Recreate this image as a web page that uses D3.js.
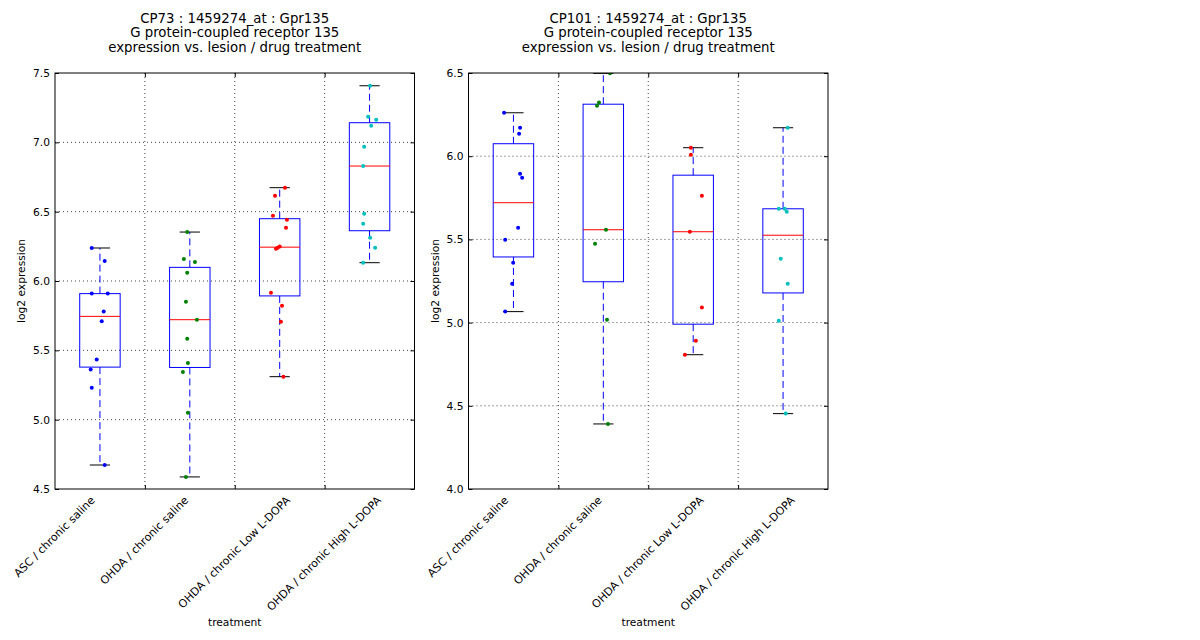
<!DOCTYPE html>
<html>
<head>
<meta charset="utf-8">
<script src="https://cdn.jsdelivr.net/npm/d3@7"></script>
<style>
  body { margin: 0; background: #fff; }
  text { font-family: 'DejaVu Sans', sans-serif; fill: #000; }
</style>
</head>
<body>
<svg id="chart" width="1200" height="640"></svg>
<script>
// treatment groups, in plotting order
var categories = ['ASC / chronic saline', 'OHDA / chronic saline',
  'OHDA / chronic Low L-DOPA', 'OHDA / chronic High L-DOPA']

// CP73 log2 expression per group
var cp73Values = [
  [6.238, 6.144, 5.909, 5.909, 5.780, 5.710, 5.433, 5.361, 5.231, 4.673],
  [6.353, 6.159, 6.137, 6.060, 5.851, 5.721, 5.584, 5.409, 5.344, 5.050, 4.587],
  [6.673, 6.615, 6.471, 6.442, 6.384, 6.248, 6.240, 6.232, 5.916, 5.822, 5.707, 5.310],
  [7.408, 7.185, 7.163, 7.120, 6.969, 6.829, 6.485, 6.413, 6.312, 6.240, 6.132]
]
// horizontal jitter of each point, in category widths
var cp73Jitter = [
  [-0.091, 0.053, -0.091, 0.087, 0.042, 0.020, -0.036, -0.103, -0.091, 0.053],
  [-0.029, -0.066, 0.057, -0.029, -0.043, 0.079, -0.029, -0.021, -0.077, -0.021, -0.043],
  [0.059, -0.052, -0.075, 0.081, 0.070, 0.000, -0.022, -0.041, -0.097, 0.026, 0.014, 0.042],
  [0.006, -0.016, 0.074, 0.018, -0.060, -0.071, -0.060, -0.071, 0.006, 0.062, -0.071]
]

// CP101 log2 expression per group
var cp101Values = [
  [6.261, 6.171, 6.135, 5.895, 5.871, 5.570, 5.498, 5.360, 5.234, 5.066],
  [6.498, 6.322, 6.303, 5.558, 5.474, 5.017, 4.391],
  [6.051, 6.009, 5.763, 5.546, 5.090, 4.891, 4.807],
  [6.171, 5.684, 5.684, 5.666, 5.384, 5.234, 5.011, 4.453]
]
var cp101Jitter = [
  [-0.104, 0.074, 0.063, 0.074, 0.097, 0.052, -0.092, -0.003, -0.014, -0.092],
  [0.074, -0.048, -0.070, 0.030, -0.092, 0.041, 0.052],
  [-0.026, -0.026, 0.097, -0.037, 0.097, 0.030, -0.092],
  [0.052, -0.048, 0.019, 0.041, -0.026, 0.052, -0.048, 0.030]
]

var cp73Ticks = [4.5, 5.0, 5.5, 6.0, 6.5, 7.0, 7.5]
var cp101Ticks = [4.0, 4.5, 5.0, 5.5, 6.0, 6.5]

var cp73Title = ['CP73 : 1459274_at : Gpr135', 'G protein-coupled receptor 135',
  'expression vs. lesion / drug treatment']
var cp101Title = ['CP101 : 1459274_at : Gpr135', 'G protein-coupled receptor 135',
  'expression vs. lesion / drug treatment']

var dotColors = ['#0000ff', '#008000', '#ff0000', '#00bfbf']

var svg = d3.select('#chart')
svg.append('rect').attr('width', 1200).attr('height', 640).attr('fill', '#fff')

// panel geometry
var plotTop = 73
var plotHeight = 416
var plotWidth = 359.5
var labelSize = 11

function boxStats (vals) {
  var s = vals.slice().sort(d3.ascending)
  var q1 = d3.quantileSorted(s, 0.25)
  var med = d3.quantileSorted(s, 0.5)
  var q3 = d3.quantileSorted(s, 0.75)
  var iqr = q3 - q1
  var lo = d3.min(s.filter((v) => v >= q1 - 1.5 * iqr))
  var hi = d3.max(s.filter((v) => v <= q3 + 1.5 * iqr))
  return {q1: q1, med: med, q3: q3, lo: lo, hi: hi}
}

function drawPanel (left, id, values, jitter, ticks, title) {
  var width = plotWidth
  var height = plotHeight
  var g = svg.append('g').attr('transform', 'translate(' + left + ',' + plotTop + ')')

  var x = d3.scalePoint().domain(categories).range([0, width]).padding(0.5)
  var step = x.step()
  var y = d3.scaleLinear().domain([ticks[0], ticks[ticks.length - 1]]).range([height, 0])
  // x ticks (and their labels) sit on the group edges, not the centres
  var edges = categories.map((c) => x(c) - step / 2)

  svg.append('clipPath').attr('id', id)
    .append('rect').attr('width', width).attr('height', height)

  // dotted grid
  g.append('g').selectAll('line').data(ticks.slice(1, -1)).enter().append('line')
    .attr('x1', 0).attr('x2', width)
    .attr('y1', (d) => y(d)).attr('y2', (d) => y(d))
    .attr('stroke', '#444').attr('stroke-dasharray', '1,3')
  g.append('g').selectAll('line').data(edges.slice(1)).enter().append('line')
    .attr('x1', (d) => d).attr('x2', (d) => d)
    .attr('y1', 0).attr('y2', height)
    .attr('stroke', '#444').attr('stroke-dasharray', '1,3')

  // boxes
  var plot = g.append('g').attr('clip-path', 'url(#' + id + ')')
  var bw = 0.45 * step
  values.forEach(function (vals, i) {
    var st = boxStats(vals)
    var cx = x(categories[i])
    var b = plot.append('g')
    b.append('line').attr('x1', cx).attr('x2', cx)
      .attr('y1', y(st.q3)).attr('y2', y(st.hi))
      .attr('stroke', '#0000ff').attr('stroke-dasharray', '7,4')
    b.append('line').attr('x1', cx).attr('x2', cx)
      .attr('y1', y(st.q1)).attr('y2', y(st.lo))
      .attr('stroke', '#0000ff').attr('stroke-dasharray', '7,4')
    b.selectAll('.cap').data([st.lo, st.hi]).enter().append('line')
      .attr('x1', cx - bw / 4).attr('x2', cx + bw / 4)
      .attr('y1', (d) => y(d)).attr('y2', (d) => y(d))
      .attr('stroke', '#000')
    b.append('rect')
      .attr('x', cx - bw / 2).attr('width', bw)
      .attr('y', y(st.q3)).attr('height', y(st.q1) - y(st.q3))
      .attr('fill', 'none').attr('stroke', '#0000ff')
    b.append('line').attr('x1', cx - bw / 2).attr('x2', cx + bw / 2)
      .attr('y1', y(st.med)).attr('y2', y(st.med))
      .attr('stroke', '#ff0000')

    // jittered points
    plot.append('g').selectAll('circle').data(vals).enter().append('circle')
      .attr('cx', (d, j) => cx + jitter[i][j] * step)
      .attr('cy', (d) => y(d))
      .attr('r', 2)
      .attr('fill', dotColors[i])
  })

  // axes: inward ticks on all four sides
  g.append('g').call(d3.axisLeft(y).tickValues(ticks).tickFormat(d3.format('.1f'))
    .tickSizeInner(-4).tickSizeOuter(0).tickPadding(5))
  g.append('g').attr('transform', 'translate(' + width + ',0)')
    .call(d3.axisRight(y).tickValues(ticks).tickFormat('').tickSizeInner(-4).tickSizeOuter(0))
  var xe = d3.scaleLinear().domain([0, width]).range([0, width])
  g.append('g').call(d3.axisTop(xe).tickValues(edges.slice(1)).tickFormat('').tickSizeInner(-4).tickSizeOuter(0))
  g.append('g').attr('transform', 'translate(0,' + height + ')')
    .call(d3.axisBottom(xe).tickValues(edges.slice(1)).tickFormat('').tickSizeInner(-4).tickSizeOuter(0))
  g.selectAll('.domain').remove()
  g.selectAll('.tick line').attr('stroke', '#000')
  g.selectAll('.tick text').style('font-size', '10.7px').attr('fill', '#000')

  g.append('rect').attr('width', width).attr('height', height)
    .attr('fill', 'none').attr('stroke', '#000')

  // rotated category labels, their rotated box centred on the edge tick
  var asc = 0.76 * labelSize
  var desc = 0.24 * labelSize
  g.append('g').selectAll('text').data(categories).enter().append('text')
    .style('font-size', labelSize + 'px')
    .attr('text-anchor', 'middle')
    .text((d) => d)
    .attr('transform', function (d, i) {
      var w = this.getComputedTextLength()
      var mx = edges[i] + Math.SQRT1_2 * (asc - desc) / 2
      var my = height + 6 + Math.SQRT1_2 * (w / 2 + asc)
      return 'translate(' + mx + ',' + my + ') rotate(-45)'
    })

  g.append('text').attr('x', width / 2).attr('y', 553)
    .attr('text-anchor', 'middle').style('font-size', '10.7px').text('treatment')
  g.append('text').attr('transform', 'translate(-30,' + height / 2 + ') rotate(-90)')
    .attr('text-anchor', 'middle').style('font-size', '10.7px').text('log2 expression')

  g.append('g').selectAll('text').data(title).enter().append('text')
    .attr('x', width / 2).attr('y', (d, i) => -50.5 + i * 14.5)
    .attr('text-anchor', 'middle').style('font-size', '13.3px')
    .text((d) => d)
}

drawPanel(55, 'clip73', cp73Values, cp73Jitter, cp73Ticks, cp73Title)
drawPanel(468.5, 'clip101', cp101Values, cp101Jitter, cp101Ticks, cp101Title)
</script>
</body>
</html>
